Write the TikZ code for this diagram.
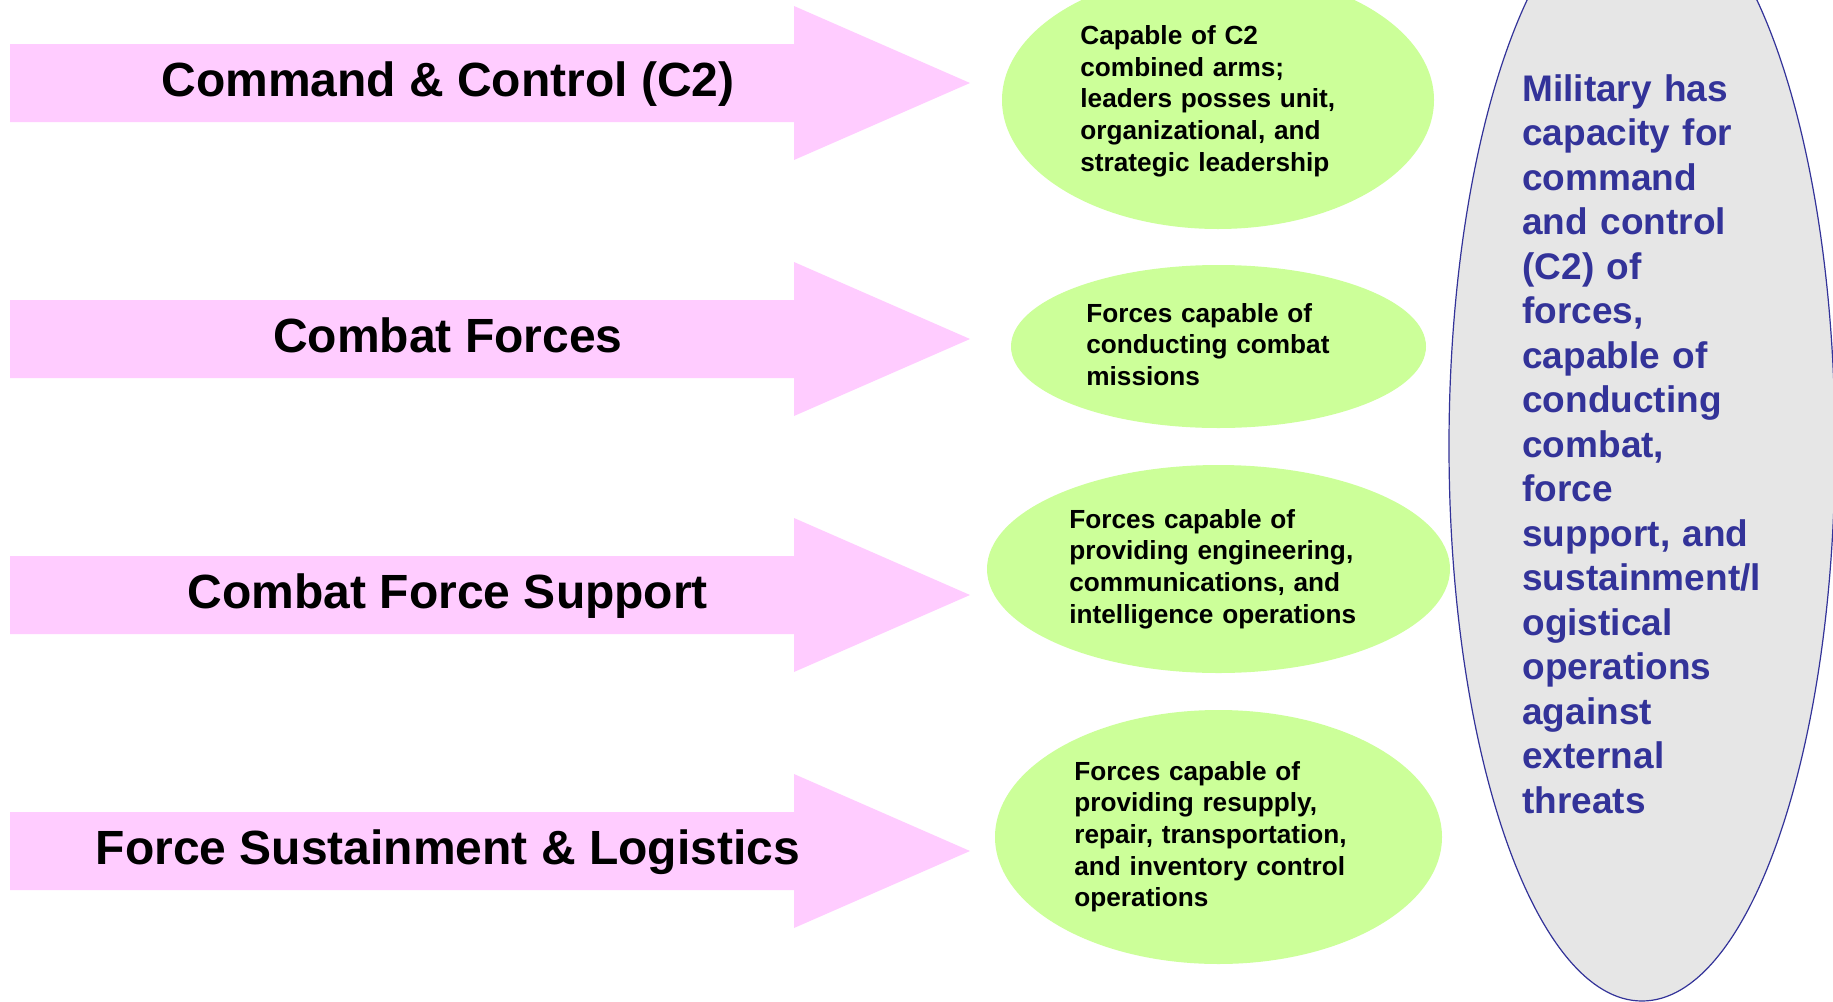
\documentclass[tikz,border=0pt]{standalone}
\usepackage{fontspec}
\setmainfont{Liberation Sans}
\definecolor{arrowpink}{HTML}{FFCCFF}
\definecolor{ovalgreen}{HTML}{CCFF99}
\definecolor{ovalgrey}{HTML}{E6E6E6}
\definecolor{navy}{HTML}{333399}
\tikzset{
  bigarrow/.style={fill=arrowpink, draw=none},
  greenoval/.style={fill=ovalgreen, draw=none},
  greyoval/.style={fill=ovalgrey, draw=navy, line width=0.6pt},
  arrowlabel/.style={font=\bfseries\fontsize{24}{28}\selectfont, anchor=base, inner sep=0pt},
  ovaltext/.style={font=\bfseries\fontsize{13.1}{15.85}\selectfont, anchor=base west, inner sep=0pt, text width=170pt, align=left},
  bigtext/.style={font=\bfseries\fontsize{18.5}{22.25}\selectfont, text=navy, anchor=base west, inner sep=0pt, text width=150pt, align=left}
}
\begin{document}
\begin{tikzpicture}[x=0.5pt,y=-0.5pt]
\useasboundingbox (0,0) rectangle (1833,1002);
\fill[white] (0,0) rectangle (1833,1002);

% pink arrows
\foreach \c in {83,339,595,851}{
  \fill[bigarrow] (10,\c-39) -- (794,\c-39) -- (794,\c-77) -- (970,\c) -- (794,\c+77) -- (794,\c+39) -- (10,\c+39) -- cycle;
}
\node[arrowlabel] (l1) at (448,96.5) {Command \& Control (C2)};
\node[arrowlabel] (l2) at (448,352.5) {Combat Forces};
\node[arrowlabel] (l3) at (448,608.5) {Combat Force Support};
\node[arrowlabel] (l4) at (448,864.5) {Force Sustainment \& Logistics};

% grey ellipse
\draw[greyoval] (1642,446) ellipse [x radius=193, y radius=555];

% green ellipses
\fill[greenoval] (1218,100) ellipse [x radius=216, y radius=129];
\fill[greenoval] (1218.5,346.5) ellipse [x radius=207.5, y radius=81.5];
\fill[greenoval] (1218.5,569) ellipse [x radius=231.5, y radius=104];
\fill[greenoval] (1218.5,837) ellipse [x radius=223.5, y radius=127];

\node[ovaltext] (t1) at (1080,44.3) {Capable of C2\\combined arms;\\leaders posses unit,\\organizational, and\\strategic leadership};
\node[ovaltext] (t2) at (1086,322) {Forces capable of\\conducting combat\\missions};
\node[ovaltext] (t3) at (1069,528) {Forces capable of\\providing engineering,\\communications, and\\intelligence operations};
\node[ovaltext] (t4) at (1074,780) {Forces capable of\\providing resupply,\\repair, transportation,\\and inventory control\\operations};

\node[bigtext] (big) at (1522,101) {Military has\\capacity for\\command\\and control\\(C2) of\\forces,\\capable of\\conducting\\combat,\\force\\support, and\\sustainment/l\\ogistical\\operations\\against\\external\\threats};
\end{tikzpicture}
\end{document}
